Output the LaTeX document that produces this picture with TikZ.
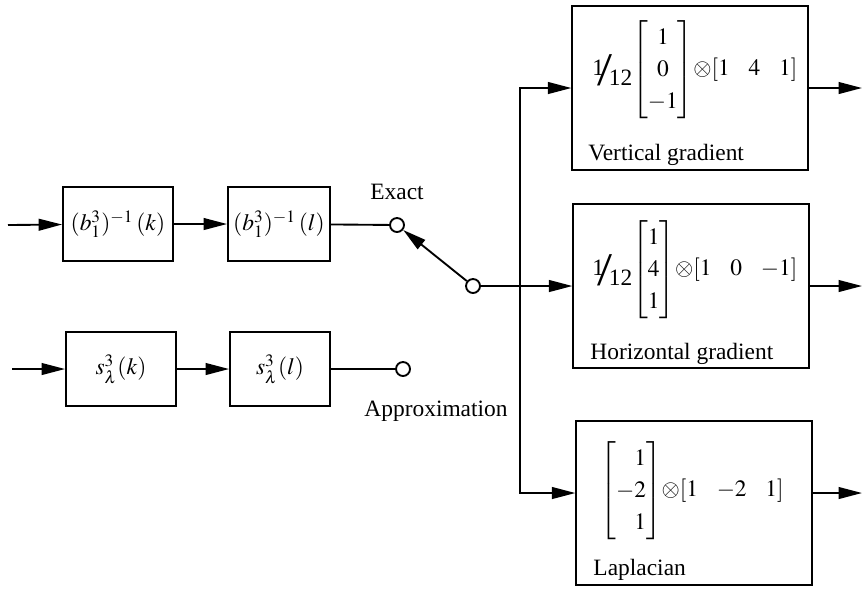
\documentclass[tikz,border=0pt]{standalone}
\usepackage{amsmath}
\usepackage{amssymb}
\usepackage{mathptmx}
\usepackage{fontspec}
\setmainfont{Liberation Serif}
\usepackage{tikz}
\usetikzlibrary{positioning, arrows.meta, calc}
\newcommand{\onetw}{1\kern-.3em\raisebox{-.43em}{\scalebox{2.3}[2.0]{/}}\kern-.14em\raisebox{-.43em}{12}}
\newcommand{\gap}{\hspace{.8em}}
\tikzset{
  blk/.style  = {rectangle, draw, thick, minimum height=1.11cm,
                 inner sep=2pt, font=\normalsize},
  gbox/.style = {rectangle, draw, thick, minimum width=3.53cm,
                 minimum height=2.46cm},
  tap/.style  = {circle, draw, thick, fill=white, minimum size=0.21cm,
                 inner sep=0pt},
  mat/.style  = {anchor=west, inner sep=0pt,
                 execute at begin node={\renewcommand{\arraystretch}{1.15}}},
  gcap/.style = {anchor=base west, inner sep=0pt},
  arr/.style  = {-{Triangle[length=10pt,width=5pt]}, thick},
  wire/.style = {thick},
}

\begin{document}
\begin{tikzpicture}[x=0.015cm, y=-0.015cm, node distance=0.5cm]
  \useasboundingbox (0,0) rectangle (862,590);

  % exact branch
  \coordinate (inE) at (8,225);
  \node[blk, minimum width=1.65cm] (bk) at (118,224) {$(b_1^3)^{-1}\,(k)$};
  \node[blk, minimum width=1.53cm] (bl) at (279,224) {$(b_1^3)^{-1}\,(l)$};
  \node[tap] (ex) at (397,225) {};
  \node[above=4pt of ex] (lbex) {Exact};

  % approximation branch
  \coordinate (inA) at (12,369);
  \node[blk, minimum width=1.65cm] (sk) at (121,369) {$s_\lambda^3(k)$};
  \node[blk, minimum width=1.50cm] (sl) at (280,369) {$s_\lambda^3(l)$};
  \node[tap] (ap) at (403,369) {};
  \node (lbap) at (436,411) {Approximation};

  % switch
  \node[tap] (pv) at (473,286) {};
  \coordinate (bus) at (520,286);
  \coordinate (rim) at (862,0);

  % filters
  \node[gbox] (vg) at (690,88) {};
  \node[mat] (vgm) at (592,70)
    {\onetw$\begin{bmatrix}1\\0\\-1\end{bmatrix}\!{\otimes}[1\gap 4\gap 1]$};
  \node[gcap] (vgc) at (588,160) {Vertical gradient};

  \node[gbox] (hg) at (691,286) {};
  \node[mat] (hgm) at (592,270)
    {\onetw$\begin{bmatrix}1\\4\\1\end{bmatrix}\!{\otimes}[1\gap 0\gap {-1}]$};
  \node[gcap] (hgc) at (590,359) {Horizontal gradient};

  \node[gbox] (lp) at (694,503) {};
  \node[mat] (lpm) at (600,491)
    {$\left[\begin{array}{@{}r@{}}1\\-2\\1\end{array}\right]\!{\otimes}[1\gap {-2}\gap 1]$};
  \node[gcap] (lpc) at (593,575) {Laplacian};
  \coordinate (lpin) at ([yshift=0.15cm]lp.west);
  \coordinate (lpout) at ([yshift=0.15cm]lp.east);

  \draw[arr] (inE) -- (bk);
  \draw[arr] (bk) -- (bl);
  \draw[wire] (bl) -- (ex);
  \draw[arr] (inA) -- (sk);
  \draw[arr] (sk) -- (sl);
  \draw[wire] (sl) -- (ap);
  \draw[arr] (pv) -- (ex);

  \draw[arr] (pv) -- (hg);
  \draw[arr] (bus) |- (vg);
  \draw[arr] (bus) |- (lpin);

  \draw[arr] (vg.east) -- (vg.east -| rim);
  \draw[arr] (hg.east) -- (hg.east -| rim);
  \draw[arr] (lpout) -- (lpout -| rim);

\end{tikzpicture}
\end{document}
